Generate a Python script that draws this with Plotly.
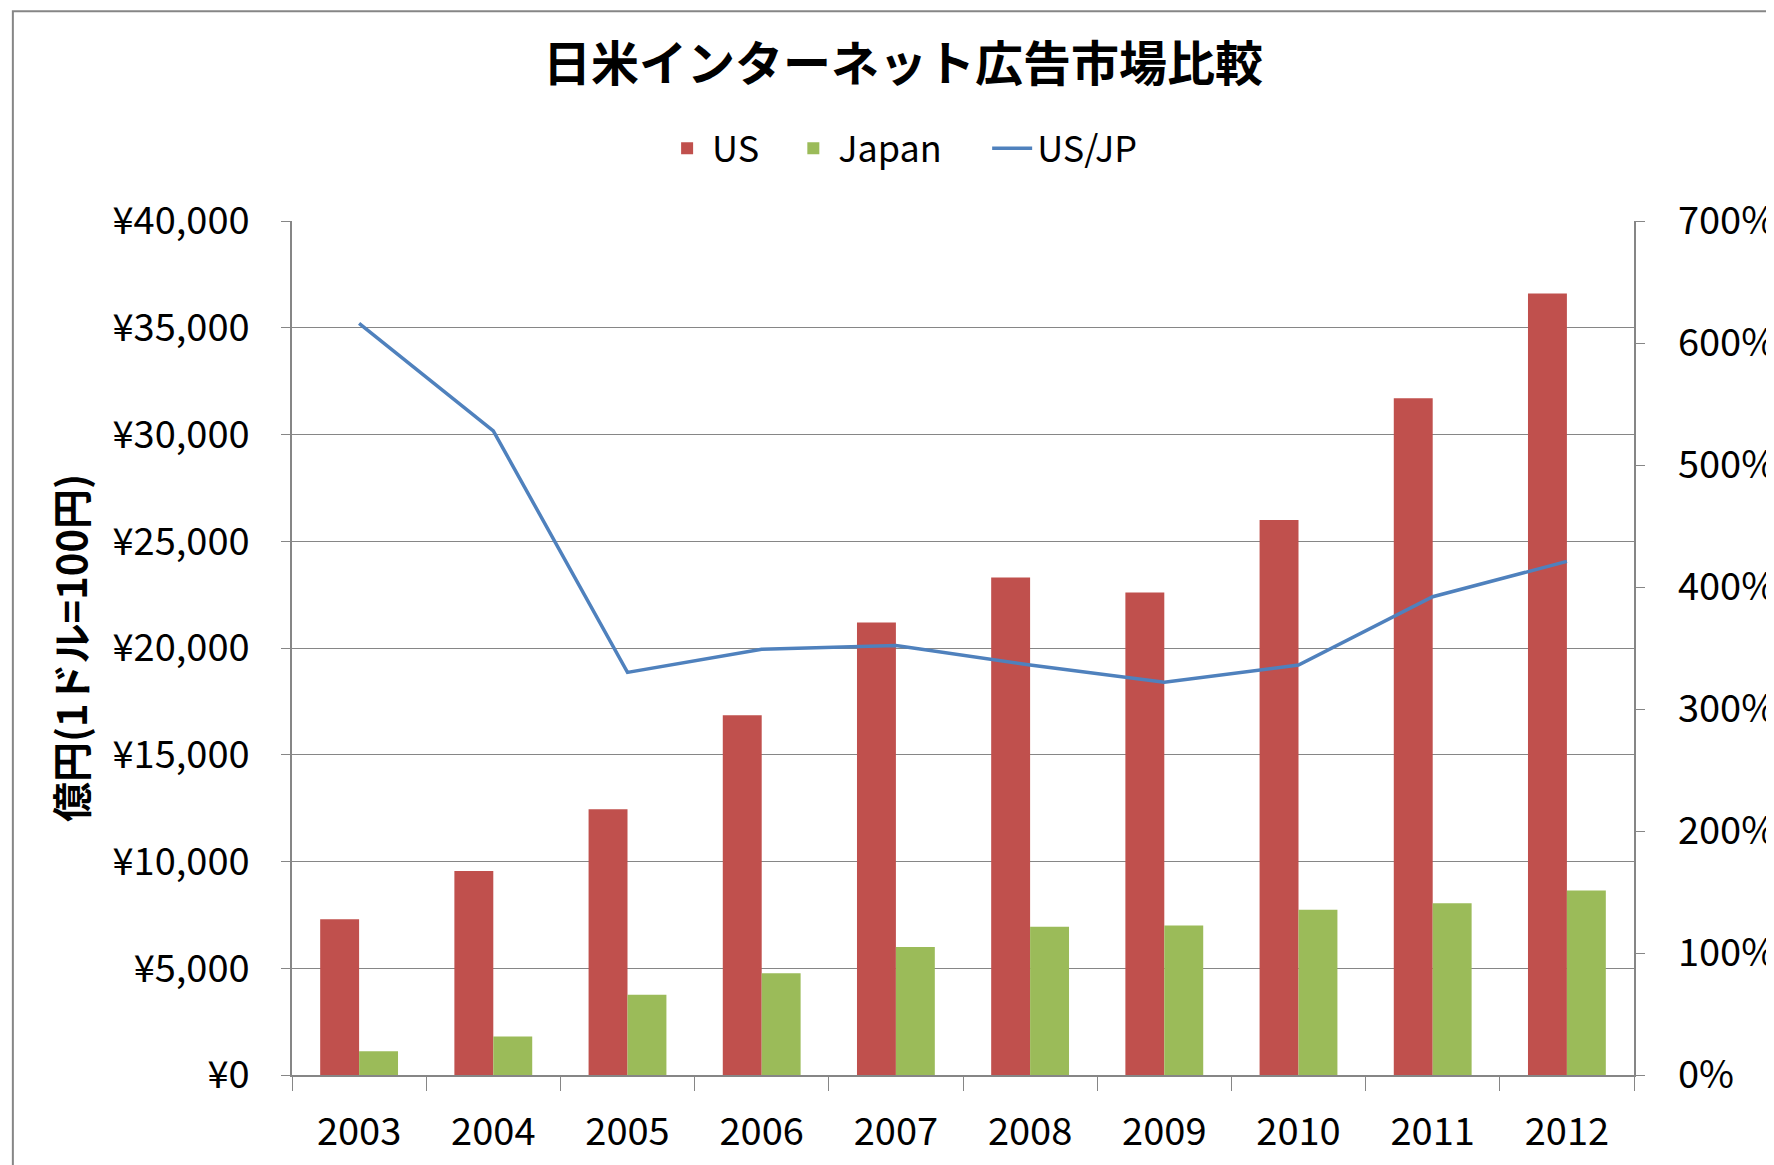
import plotly.graph_objects as go

# Data (億円, 1ドル=100円)
years = ["2003", "2004", "2005", "2006", "2007", "2008", "2009", "2010", "2011", "2012"]
us = [7300, 9550, 12450, 16850, 21200, 23300, 22600, 26000, 31700, 36600]
japan = [1110, 1800, 3760, 4770, 5990, 6940, 7000, 7740, 8050, 8640]
us_jp = [6.16, 5.28, 3.30, 3.49, 3.52, 3.36, 3.22, 3.36, 3.92, 4.21]

left_ticks = [0, 5000, 10000, 15000, 20000, 25000, 30000, 35000, 40000]
left_labels = ["¥0", "¥5,000", "¥10,000", "¥15,000", "¥20,000",
               "¥25,000", "¥30,000", "¥35,000", "¥40,000"]

font_jp = "Noto Sans CJK JP"
grey = "#868686"
nb = "\u00a0"  # used to widen the gaps between legend entries

fig = go.Figure()

fig.add_trace(go.Bar(x=years, y=us, name="US" + nb * 3, marker_color="#C0504D",
                     marker_line_width=0))
fig.add_trace(go.Bar(x=years, y=japan, name="Japan" + nb * 5, marker_color="#9BBB59",
                     marker_line_width=0))
fig.add_trace(go.Scatter(x=years, y=us_jp, name="US/JP", mode="lines",
                         line=dict(color="#4F81BD", width=3.5), yaxis="y2"))

fig.update_layout(
    width=1774,
    height=1165,
    # page body adds 8px, so margins are shifted by that
    margin=dict(l=284, r=148, t=213, b=98),
    paper_bgcolor="white",
    plot_bgcolor="white",
    font=dict(family=font_jp, size=38, color="black"),
    barmode="group",
    bargap=0.42,
    bargroupgap=0,
    title=dict(
        text="<b>日米インターネット広告市場比較</b>",
        x=0.5045, xanchor="center",
        y=0.9515, yanchor="middle",
        font=dict(size=48, family=font_jp),
    ),
    legend=dict(
        orientation="h",
        x=0.455, xanchor="center",
        y=1.085, yanchor="middle",
        font=dict(size=36),
        itemwidth=40,
        traceorder="normal",
    ),
    xaxis=dict(
        type="category", automargin=False,
        showline=True, linecolor=grey, linewidth=1.5,
        ticks="outside", tickson="boundaries", ticklen=14, tickcolor=grey,
        ticklabelstandoff=23,
        showgrid=False,
        tickfont=dict(size=38),
    ),
    yaxis=dict(
        range=[0, 40000], automargin=False,
        tickvals=left_ticks, ticktext=left_labels,
        showline=True, linecolor=grey, linewidth=1.5,
        ticks="outside", ticklen=9, tickcolor=grey,
        ticklabelstandoff=24,
        showgrid=True, gridcolor=grey, gridwidth=1,
        zeroline=False,
        tickfont=dict(size=38),
        title=dict(text="<b>億円(1ドル=100円)</b>", standoff=13,
                   font=dict(size=40)),
    ),
    yaxis2=dict(
        overlaying="y", side="right", automargin=False,
        range=[0, 7], dtick=1, tickformat=".0%",
        tickprefix=nb * 3,
        showline=True, linecolor=grey, linewidth=1.5,
        ticks="outside", ticklen=9, tickcolor=grey,
        showgrid=False, zeroline=False,
        tickfont=dict(size=38),
    ),
    shapes=[dict(
        type="rect", xref="paper", yref="paper",
        x0=-0.208, x1=1.2, y0=-0.2, y1=1.2455,
        line=dict(color=grey, width=2), fillcolor="rgba(0,0,0,0)",
        layer="below",
    )],
)

fig.write_html("out.html")
